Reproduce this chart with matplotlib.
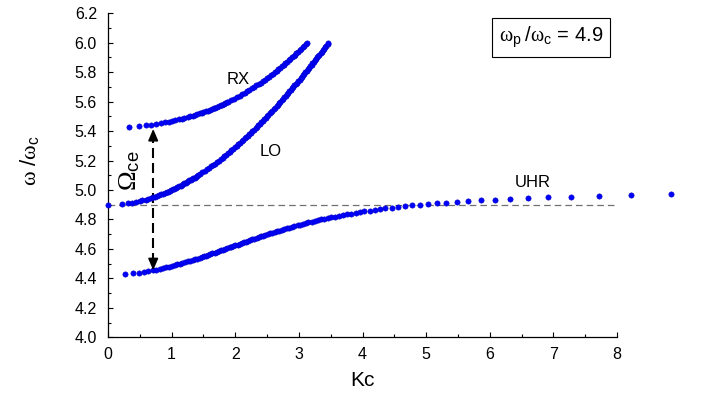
import matplotlib.pyplot as plt
from matplotlib.ticker import MultipleLocator

plt.rcParams['font.family'] = ['Liberation Sans', 'DejaVu Sans']
plt.rcParams['mathtext.fontset'] = 'custom'
plt.rcParams['mathtext.rm'] = 'Liberation Serif'
plt.rcParams['mathtext.it'] = 'Liberation Serif:italic'
plt.rcParams['mathtext.sf'] = 'Liberation Sans'

# lower X branch -> UHR (omega/omega_c, Kc)
w_low = [4.430, 4.435, 4.440, 4.445, 4.450, 4.455, 4.460, 4.465, 4.470, 4.475,
         4.480, 4.485, 4.490, 4.495, 4.500, 4.505, 4.510, 4.515, 4.520, 4.525,
         4.530, 4.535, 4.540, 4.545, 4.550, 4.555, 4.560, 4.565, 4.570, 4.575,
         4.580, 4.585, 4.590, 4.595, 4.600, 4.605, 4.610, 4.615, 4.620, 4.625,
         4.630, 4.635, 4.640, 4.645, 4.650, 4.655, 4.660, 4.665, 4.670, 4.675,
         4.680, 4.685, 4.690, 4.695, 4.700, 4.705, 4.710, 4.715, 4.720, 4.725,
         4.730, 4.735, 4.740, 4.745, 4.750, 4.755, 4.760, 4.765, 4.770, 4.775,
         4.780, 4.785, 4.790, 4.795, 4.800, 4.805, 4.810, 4.815, 4.820, 4.825,
         4.830, 4.835, 4.840, 4.845, 4.850, 4.855, 4.860, 4.865, 4.870, 4.875,
         4.880, 4.885, 4.890, 4.895, 4.900, 4.905, 4.910, 4.915, 4.920, 4.925,
         4.930, 4.935, 4.940, 4.945, 4.950, 4.955, 4.960, 4.965, 4.970]
k_low = [0.27, 0.39, 0.49, 0.57, 0.63, 0.70, 0.76, 0.81, 0.86, 0.91,
         0.96, 1.01, 1.05, 1.09, 1.13, 1.17, 1.21, 1.25, 1.29, 1.33,
         1.36, 1.40, 1.44, 1.47, 1.51, 1.54, 1.57, 1.61, 1.64, 1.68,
         1.71, 1.74, 1.77, 1.81, 1.84, 1.87, 1.91, 1.94, 1.97, 2.00,
         2.04, 2.07, 2.10, 2.13, 2.17, 2.20, 2.23, 2.27, 2.30, 2.34,
         2.37, 2.40, 2.44, 2.47, 2.51, 2.55, 2.58, 2.62, 2.66, 2.69,
         2.73, 2.77, 2.81, 2.85, 2.89, 2.93, 2.98, 3.02, 3.06, 3.11,
         3.15, 3.20, 3.25, 3.30, 3.35, 3.40, 3.46, 3.51, 3.57, 3.63,
         3.69, 3.75, 3.82, 3.89, 3.96, 4.03, 4.11, 4.19, 4.27, 4.36,
         4.46, 4.56, 4.67, 4.78, 4.90, 5.03, 5.17, 5.32, 5.48, 5.66,
         5.86, 6.08, 6.32, 6.60, 6.91, 7.28, 7.71, 8.22, 8.85]

# RX branch
w_rx = [5.430, 5.435, 5.440, 5.445, 5.450, 5.455, 5.460, 5.465, 5.470, 5.475,
        5.480, 5.485, 5.490, 5.495, 5.500, 5.505, 5.510, 5.515, 5.520, 5.525,
        5.530, 5.535, 5.540, 5.545, 5.550, 5.555, 5.560, 5.565, 5.570, 5.575,
        5.580, 5.585, 5.590, 5.595, 5.600,
        5.61, 5.62, 5.63, 5.64, 5.65, 5.66, 5.67, 5.68, 5.69, 5.70,
        5.71, 5.72, 5.73, 5.74, 5.75, 5.76, 5.77, 5.78, 5.79, 5.80,
        5.81, 5.82, 5.83, 5.84, 5.85, 5.86, 5.87, 5.88, 5.89, 5.90,
        5.91, 5.92, 5.93, 5.94, 5.95, 5.96, 5.97, 5.98, 5.99, 6.00]
k_rx = [0.33, 0.48, 0.59, 0.68, 0.76, 0.83, 0.90, 0.96, 1.01, 1.06,
        1.11, 1.16, 1.20, 1.25, 1.29, 1.33, 1.36, 1.40, 1.44, 1.47,
        1.50, 1.54, 1.57, 1.60, 1.63, 1.66, 1.68, 1.71, 1.74, 1.77,
        1.79, 1.82, 1.84, 1.87, 1.89,
        1.94, 1.98, 2.02, 2.07, 2.11, 2.15, 2.19, 2.22, 2.26, 2.30,
        2.33, 2.37, 2.40, 2.43, 2.46, 2.50, 2.53, 2.56, 2.59, 2.62,
        2.65, 2.67, 2.70, 2.73, 2.76, 2.78, 2.81, 2.84, 2.86, 2.89,
        2.92, 2.94, 2.96, 2.99, 3.01, 3.04, 3.06, 3.08, 3.11, 3.13]

# LO branch
w_lo = [4.900, 4.905, 4.910, 4.915, 4.920, 4.925, 4.930, 4.935, 4.940, 4.945,
        4.950, 4.955, 4.960, 4.965, 4.970, 4.975, 4.980, 4.985, 4.990, 4.995,
        5.000, 5.005, 5.010, 5.015, 5.020, 5.025, 5.030, 5.035, 5.040, 5.045,
        5.050, 5.055, 5.060, 5.065, 5.070, 5.075, 5.080, 5.085, 5.090, 5.095,
        5.100,
        5.11, 5.12, 5.13, 5.14, 5.15, 5.16, 5.17, 5.18, 5.19, 5.20,
        5.21, 5.22, 5.23, 5.24, 5.25, 5.26, 5.27, 5.28, 5.29, 5.30,
        5.31, 5.32, 5.33, 5.34, 5.35, 5.36, 5.37, 5.38, 5.39, 5.40,
        5.41, 5.42, 5.43, 5.44, 5.45, 5.46, 5.47, 5.48, 5.49, 5.50,
        5.51, 5.52, 5.53, 5.54, 5.55, 5.56, 5.57, 5.58, 5.59, 5.60,
        5.61, 5.62, 5.63, 5.64, 5.65, 5.66, 5.67, 5.68, 5.69, 5.70,
        5.71, 5.72, 5.73, 5.74, 5.75, 5.76, 5.77, 5.78, 5.79, 5.80,
        5.81, 5.82, 5.83, 5.84, 5.85, 5.86, 5.87, 5.88, 5.89, 5.90,
        5.91, 5.92, 5.93, 5.94, 5.95, 5.96, 5.97, 5.98, 5.99, 6.00]
k_lo = [0.00, 0.22, 0.31, 0.38, 0.44, 0.50, 0.54, 0.59, 0.63, 0.67,
        0.70, 0.74, 0.77, 0.80, 0.83, 0.86, 0.89, 0.92, 0.94, 0.97,
        0.99, 1.02, 1.04, 1.07, 1.09, 1.11, 1.14, 1.16, 1.18, 1.20,
        1.22, 1.24, 1.26, 1.28, 1.30, 1.32, 1.34, 1.36, 1.38, 1.40,
        1.41,
        1.45, 1.48, 1.52, 1.55, 1.59, 1.62, 1.65, 1.68, 1.71, 1.74,
        1.77, 1.80, 1.83, 1.86, 1.88, 1.91, 1.94, 1.97, 1.99, 2.02,
        2.05, 2.07, 2.10, 2.12, 2.15, 2.17, 2.20, 2.22, 2.25, 2.27,
        2.29, 2.32, 2.34, 2.36, 2.39, 2.41, 2.43, 2.45, 2.48, 2.50,
        2.52, 2.54, 2.56, 2.58, 2.61, 2.63, 2.65, 2.67, 2.69, 2.71,
        2.73, 2.75, 2.77, 2.79, 2.81, 2.83, 2.85, 2.87, 2.89, 2.91,
        2.93, 2.95, 2.97, 2.99, 3.01, 3.03, 3.05, 3.07, 3.08, 3.10,
        3.12, 3.14, 3.16, 3.18, 3.20, 3.21, 3.23, 3.25, 3.27, 3.29,
        3.30, 3.32, 3.34, 3.36, 3.38, 3.39, 3.41, 3.43, 3.45, 3.46]

w_ratio = 4.9      # omega_p / omega_c, also the dashed level
k_gap = 0.71       # where the Omega_ce arrow sits
w_gap = [4.455, 5.415]

fig = plt.figure(figsize=(7.07, 3.94), dpi=100)
ax = fig.add_axes([0.1528, 0.1439, 0.7199, 0.8223])

# dashed reference level
ax.plot([0, 8], [w_ratio, w_ratio], '--', color='#707070', lw=0.9, dashes=(5.3, 3.2), zorder=1)

for k, w in [(k_low, w_low), (k_rx, w_rx), (k_lo, w_lo)]:
    ax.plot(k, w, 'o', ms=3.8, color='#0000ff', mec='#0000c0', mew=0.4,
            clip_on=False, zorder=3)

# Omega_ce double arrow
ax.plot([k_gap, k_gap], [w_gap[0] + 0.05, w_gap[1] - 0.05], '--', color='k', lw=1.5,
        dashes=(4.8, 2.4), zorder=2)
for tip, tail in [(w_gap[0], w_gap[0] + 0.07), (w_gap[1], w_gap[1] - 0.07)]:
    ax.annotate('', xy=(k_gap, tip), xytext=(k_gap, tail),
                arrowprops=dict(arrowstyle='-|>,head_length=0.7,head_width=0.3',
                                color='k', lw=1.2, shrinkA=0, shrinkB=0), zorder=4)

ax.text(2.05, 5.75, 'RX', fontsize=12, ha='center', va='center')
ax.text(2.56, 5.26, 'LO', fontsize=12, ha='center', va='center')
ax.text(6.67, 5.05, 'UHR', fontsize=12, ha='center', va='center')
ax.text(0.34, 5.13, r'$\mathrm{\Omega}_{\mathsf{ce}}$', fontsize=19, rotation=90,
        ha='center', va='center')

ax.text(0.870, 0.926, r'$\mathrm{\omega}_{\mathsf{p}}\;\mathsf{/}\mathrm{\omega}_{\mathsf{c}}$ = 4.9',
        transform=ax.transAxes, fontsize=14.5, ha='center', va='center',
        bbox=dict(boxstyle='square,pad=0.35', fc='white', ec='black', lw=0.8))

ax.set_xlim(0, 8)
ax.set_ylim(4.0, 6.2)
ax.xaxis.set_major_locator(MultipleLocator(1))
ax.xaxis.set_minor_locator(MultipleLocator(0.5))
ax.yaxis.set_major_locator(MultipleLocator(0.2))
ax.yaxis.set_minor_locator(MultipleLocator(0.1))
ax.yaxis.set_major_formatter(plt.FormatStrFormatter('%.1f'))
ax.tick_params(which='both', direction='in', width=0.8, labelsize=11.5)
ax.tick_params(which='major', length=3.5)
ax.tick_params(which='minor', length=2)
ax.tick_params(axis='x', pad=7)
ax.tick_params(axis='y', pad=8)
for s in ['top', 'right']:
    ax.spines[s].set_visible(False)
for s in ['left', 'bottom']:
    ax.spines[s].set_linewidth(0.9)

ax.set_xlabel('Kc', fontsize=15, va='top')
ax.xaxis.set_label_coords(0.5, -0.103)
ax.set_ylabel(r'$\mathrm{\omega}\ \mathsf{/}\mathrm{\omega}_{\mathsf{c}}$', fontsize=16, va='center')
ax.yaxis.set_label_coords(-0.155, 0.544)

fig.savefig('out.png', dpi=100)
